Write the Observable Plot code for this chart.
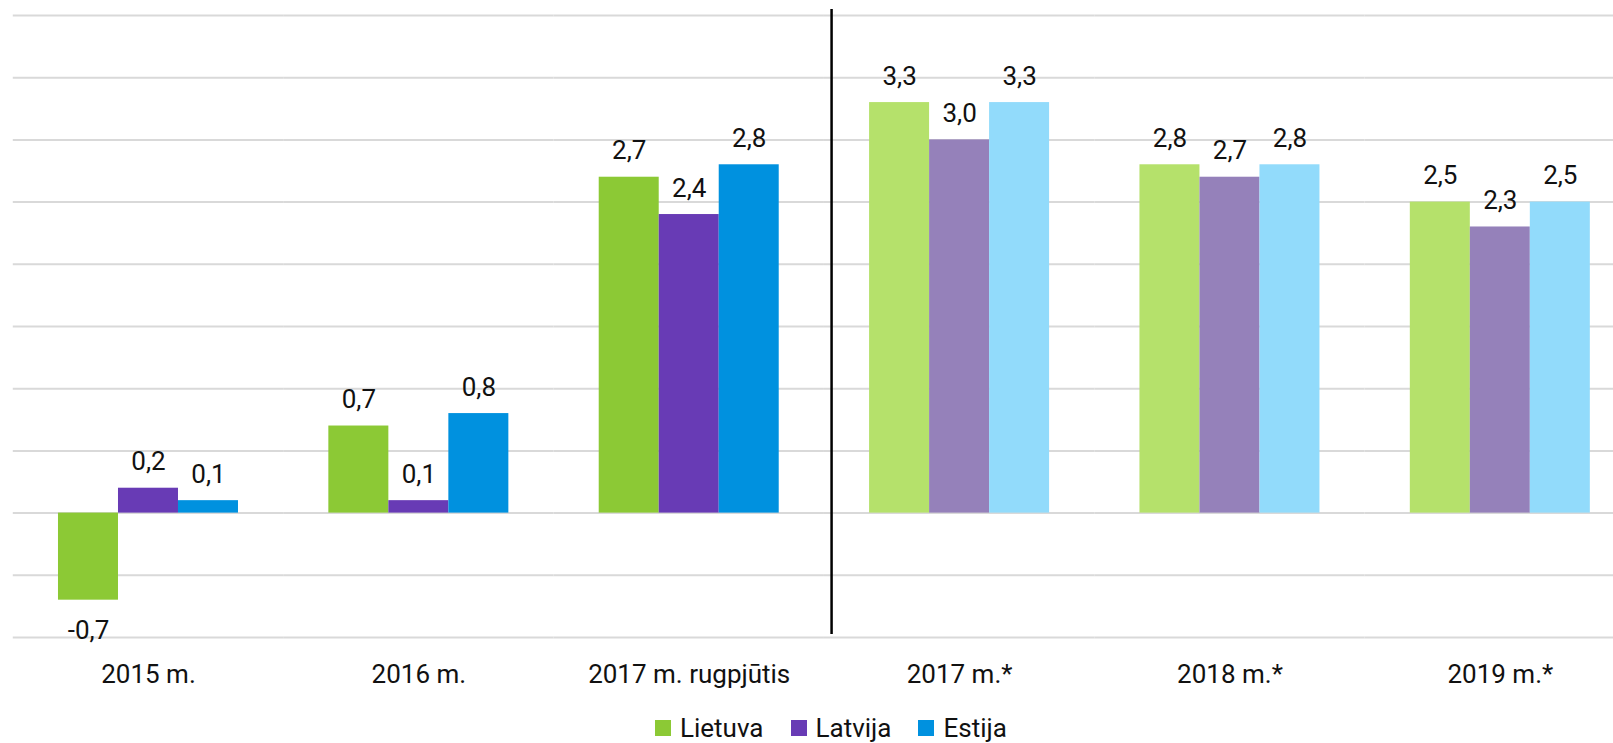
<!DOCTYPE html>
<html>
<head>
<meta charset="utf-8">
<script src="https://cdn.jsdelivr.net/npm/d3@7"></script>
<script src="https://cdn.jsdelivr.net/npm/@observablehq/plot@0.6"></script>
<style>
  html, body { margin: 0; padding: 0; background: #fff; }
  #wrap { position: relative; width: 1613px; height: 743px; font-family: Roboto, "Liberation Sans", sans-serif; }
  #legend { position: absolute; left: 655px; top: 713px; display: flex; align-items: center; font-size: 26px; color: #111; }
  .item { display: flex; align-items: center; margin-right: 27px; }
  .sw { width: 16px; height: 16px; margin-right: 9px; }
</style>
</head>
<body>
<div id="wrap"><div id="chart"></div><div id="legend"></div></div>
<script>
const categories = ["2015 m.", "2016 m.", "2017 m. rugpjūtis", "2017 m.*", "2018 m.*", "2019 m.*"];
const forecast = [false, false, false, true, true, true];
const series = ["Lietuva", "Latvija", "Estija"];
const lietuva = [-0.7, 0.7, 2.7, 3.3, 2.8, 2.5];
const latvija = [0.2, 0.1, 2.4, 3.0, 2.7, 2.3];
const estija = [0.1, 0.8, 2.8, 3.3, 2.8, 2.5];
const colorsActual = ["#8cc935", "#683bb5", "#0091df"];
const colorsForecast = ["#b5e16b", "#9581ba", "#92dbfb"];
const gridValues = [-1, -0.5, 0, 0.5, 1, 1.5, 2, 2.5, 3, 3.5, 4];

const valuesBySeries = [lietuva, latvija, estija];
const data = [];
categories.forEach((c, i) => {
  series.forEach((s, j) => {
    data.push({cat: c, series: s, value: valuesBySeries[j][i], key: s + (forecast[i] ? "*" : "")});
  });
});
const fmt = v => v.toFixed(1).replace(".", ",");

const chart = Plot.plot({
  width: 1613,
  height: 700,
  marginTop: 15,
  marginBottom: 63,
  marginLeft: 13,
  marginRight: 0,
  style: {fontSize: "26px", fontFamily: "Roboto, 'Liberation Sans', sans-serif", color: "#111", background: "white"},
  fx: {domain: categories, padding: 0, range: [12.8, 1635], round: false, axis: null},
  x: {domain: series, paddingInner: 0, paddingOuter: 0.753, round: false, axis: null},
  y: {domain: [-1, 4], axis: null},
  color: {
    domain: [...series, ...series.map(s => s + "*")],
    range: [...colorsActual, ...colorsForecast]
  },
  marks: [
    Plot.ruleY(gridValues, {stroke: "#d9d9d9", strokeWidth: 2}),
    Plot.barY(data, {fx: "cat", x: "series", y: "value", fill: "key", insetLeft: 0, insetRight: 0}),
    Plot.text(data.filter(d => d.value >= 0), {fx: "cat", x: "series", y: "value", text: d => fmt(d.value), lineAnchor: "bottom", dy: -18, fill: "#111"}),
    Plot.text(data.filter(d => d.value < 0), {fx: "cat", x: "series", y: "value", text: d => fmt(d.value), lineAnchor: "top", dy: 20, fill: "#111"}),
    Plot.ruleX([{cat: "2017 m.*", series: "Lietuva"}], {fx: "cat", x: "series", y1: -1, y2: 4, dx: -68, insetTop: -3, insetBottom: 6, stroke: "#000", strokeWidth: 2.5}),
    Plot.axisFx({anchor: "bottom", tickSize: 0, tickPadding: 27, fontSize: 26, label: null, fill: "#111"})
  ]
});
document.getElementById("chart").appendChild(chart);

const legend = document.getElementById("legend");
series.forEach((s, i) => {
  const item = document.createElement("div");
  item.className = "item";
  const sw = document.createElement("div");
  sw.className = "sw";
  sw.style.background = colorsActual[i];
  const t = document.createElement("span");
  t.textContent = s;
  item.appendChild(sw);
  item.appendChild(t);
  legend.appendChild(item);
});
</script>
</body>
</html>
